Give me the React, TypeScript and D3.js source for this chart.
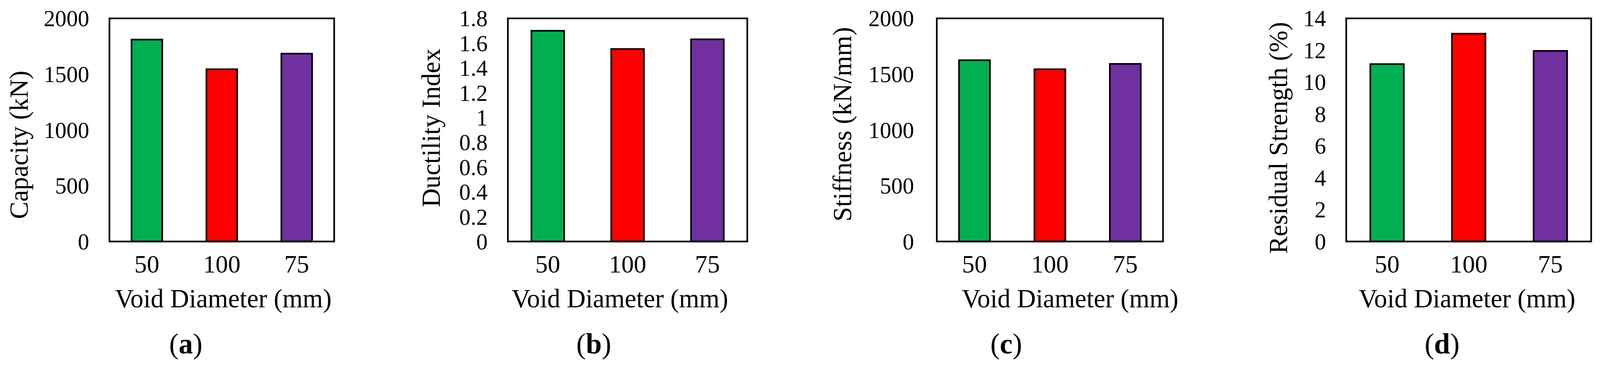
import React, { useEffect, useRef } from 'react';
import * as d3 from 'd3';

// void diameters, in the order shown on the charts
const categories = ['50', '100', '75'];
const barColors = ['#00B050', '#FF0000', '#7030A0'];

const capacity = [1810, 1544, 1684];
const ductility = [1.70, 1.553, 1.631];
const stiffness = [1625, 1544, 1592];
const residual = [11.13, 13.04, 11.96];

const capacityTicks = [0, 500, 1000, 1500, 2000];
const ductilityTicks = [0, 0.2, 0.4, 0.6, 0.8, 1, 1.2, 1.4, 1.6, 1.8];
const stiffnessTicks = [0, 500, 1000, 1500, 2000];
const residualTicks = [0, 2, 4, 6, 8, 10, 12, 14];

const yTitles = ['Capacity (kN)', 'Ductility Index', 'Stiffness (kN/mm)', 'Residual Strength (%)'];
const xTitle = 'Void Diameter (mm)';
const panelLetters = ['a', 'b', 'c', 'd'];

const FONT = '"Liberation Serif", "Times New Roman", serif';
const W = 4357;
const H = 1000;

// frame left/right, y title position, x title centre, panel letter centre
const layout = [
  { x0: 298, x1: 910, tickGap: 55, yTitleX: 75, yTitleY: 394, xTitleX: 608, letterX: 506 },
  { x0: 1383, x1: 2035, tickGap: 55, yTitleX: 1198, yTitleY: 348, xTitleX: 1688, letterX: 1617 },
  { x0: 2551, x1: 3167, tickGap: 62, yTitleX: 2318, yTitleY: 338, xTitleX: 2914, letterX: 2740 },
  { x0: 3666, x1: 4333, tickGap: 55, yTitleX: 3505, yTitleY: 375, xTitleX: 3995, letterX: 3927 },
];

const series = [capacity, ductility, stiffness, residual];
const tickSets = [capacityTicks, ductilityTicks, stiffnessTicks, residualTicks];

const TOP = 50;
const BOTTOM = 657;

const App: React.FC = () => {
  const ref = useRef<SVGSVGElement>(null);

  useEffect(() => {
    document.body.style.margin = '0';
    document.body.style.overflow = 'hidden';
    if (!ref.current) return;
    const svg = d3.select(ref.current);
    svg.selectAll('*').remove();

    series.forEach((values, i) => {
      const L = layout[i];
      const ticks = tickSets[i];
      const g = svg.append('g');

      const x = d3.scaleBand<string>()
        .domain(categories)
        .range([L.x0, L.x1])
        .paddingInner(0.59)
        .paddingOuter(0.295);

      const y = d3.scaleLinear()
        .domain([0, ticks[ticks.length - 1]])
        .range([BOTTOM, TOP]);

      // bars
      g.selectAll('.bar')
        .data(values)
        .enter().append('rect')
        .attr('x', (_d, j) => x(categories[j]) || 0)
        .attr('y', d => y(d))
        .attr('width', x.bandwidth())
        .attr('height', d => BOTTOM - y(d))
        .attr('fill', (_d, j) => barColors[j])
        .attr('stroke', '#000')
        .attr('stroke-width', 4.5);

      // frame
      g.append('rect')
        .attr('x', L.x0)
        .attr('y', TOP)
        .attr('width', L.x1 - L.x0)
        .attr('height', BOTTOM - TOP)
        .attr('fill', 'none')
        .attr('stroke', '#000')
        .attr('stroke-width', 4.5);

      // y axis
      const yAxis = g.append('g')
        .attr('transform', `translate(${L.x0},0)`)
        .call(d3.axisLeft(y).tickValues(ticks).tickSize(0).tickPadding(L.tickGap).tickFormat(d => String(d)));
      yAxis.select('.domain').remove();
      yAxis.selectAll('text')
        .attr('dy', '0.34em')
        .style('font-family', FONT)
        .style('font-size', '62px')
        .style('fill', '#000');

      // x axis
      const xAxis = g.append('g')
        .attr('transform', `translate(0,${BOTTOM})`)
        .call(d3.axisBottom(x).tickSize(0));
      xAxis.select('.domain').remove();
      xAxis.selectAll('text')
        .attr('y', 741 - BOTTOM)
        .attr('dy', 0)
        .style('font-family', FONT)
        .style('font-size', '68px')
        .style('fill', '#000');

      // axis titles
      g.append('text')
        .attr('transform', `translate(${L.yTitleX},${L.yTitleY}) rotate(-90)`)
        .attr('text-anchor', 'middle')
        .style('font-family', FONT)
        .style('font-size', '71px')
        .text(yTitles[i]);

      g.append('text')
        .attr('x', L.xTitleX)
        .attr('y', 836)
        .attr('text-anchor', 'middle')
        .style('font-family', FONT)
        .style('font-size', '71px')
        .text(xTitle);

      // panel letter
      const lt = g.append('text')
        .attr('x', L.letterX)
        .attr('y', 962)
        .attr('text-anchor', 'middle')
        .style('font-family', FONT)
        .style('font-size', '78px');
      lt.append('tspan').text('(');
      lt.append('tspan').style('font-weight', 'bold').text(panelLetters[i]);
      lt.append('tspan').text(')');
    });
  }, []);

  return (
    <svg
      ref={ref}
      viewBox={`0 0 ${W} ${H}`}
      preserveAspectRatio="xMinYMin meet"
      style={{ display: 'block', width: '100%', height: 'auto', background: '#fff' }}
    />
  );
};

export default App;
